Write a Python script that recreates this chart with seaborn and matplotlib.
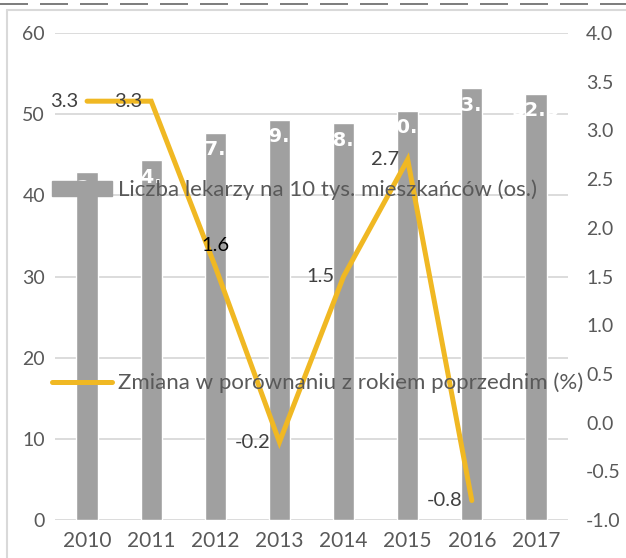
import numpy as np
import pandas as pd
import matplotlib
matplotlib.use("Agg")
import matplotlib.pyplot as plt
from matplotlib.lines import Line2D
from matplotlib.patches import Patch
import seaborn as sns

# --- data -------------------------------------------------------------
years = ["2010", "2011", "2012", "2013", "2014", "2015", "2016", "2017"]
doctors_per_10k = [42.9, 44.3, 47.7, 49.3, 48.9, 50.4, 53.2, 52.5]
change_years = ["2010", "2011", "2012", "2013", "2014", "2015", "2016"]
change_pct = [3.3, 3.3, 1.6, -0.2, 1.5, 2.7, -0.8]
left_ticks = [0, 10, 20, 30, 40, 50, 60]
right_ticks = [-1.0, -0.5, 0.0, 0.5, 1.0, 1.5, 2.0, 2.5, 3.0, 3.5, 4.0]
label_bars = "Liczba lekarzy na 10 tys. mieszkańców (os.)"
label_line = "Zmiana w porównaniu z rokiem poprzednim (%)"

BAR = "#A0A0A0"
GOLD = "#F0B823"
TXT = "#595959"
GRID = "#D9D9D9"
PX = 0.72  # points per pixel at 100 dpi

sns.set_theme(style="white")
plt.rcParams["font.family"] = ["Lato", "DejaVu Sans"]
plt.rcParams["axes.unicode_minus"] = False

df = pd.DataFrame({"rok": years, "lekarze": doctors_per_10k})
ln = pd.DataFrame({"rok": change_years, "zmiana": change_pct})
ln["pos"] = [years.index(y) for y in ln["rok"]]

fig = plt.figure(figsize=(6.26, 5.58), dpi=100)
ax = fig.add_axes([55 / 626, 38 / 558, 513 / 626, 487 / 558])

sns.barplot(data=df, x="rok", y="lekarze", color=BAR, width=0.33,
            saturation=1, ax=ax, zorder=2)
ax.set_xlim(-0.5, len(years) - 0.5)
ax.set_ylim(left_ticks[0], left_ticks[-1])
ax.set_yticks(left_ticks)
ax.set_xlabel("")
ax.set_ylabel("")
ax.set_axisbelow(True)
ax.yaxis.grid(True, color=GRID, linewidth=1.3, zorder=0)
ax.xaxis.grid(False)
for s in ax.spines.values():
    s.set_visible(False)
ax.tick_params(axis="y", length=0, pad=10 * PX, labelsize=14, labelcolor=TXT)
ax.tick_params(axis="x", length=0, pad=11 * PX, labelsize=15, labelcolor=TXT)

# white value labels sitting just inside the top of each bar
for i, v in enumerate(doctors_per_10k):
    ax.annotate(f"{v:.1f}", (i, v), xytext=(0, -17 * PX),
                textcoords="offset points", ha="center", va="center",
                color="white", fontsize=14, fontweight="bold",
                family="DejaVu Sans", zorder=4)

# secondary axis with the year-on-year change
ax2 = ax.twinx()
sns.lineplot(data=ln, x="pos", y="zmiana", color=GOLD, linewidth=5 * PX,
             ax=ax2, solid_joinstyle="miter")
ax2.set_ylim(right_ticks[0], right_ticks[-1])
ax2.set_yticks(right_ticks)
ax2.set_yticklabels([f"{t:.1f}" for t in right_ticks])
ax2.set_xlabel("")
ax2.set_ylabel("")
ax2.grid(False)
for s in ax2.spines.values():
    s.set_visible(False)
ax2.tick_params(axis="y", length=0, pad=18 * PX, labelsize=14, labelcolor=TXT)

for p, v in zip(ln["pos"], ln["zmiana"]):
    if v == 1.6:
        ax2.annotate(f"{v:.1f}", (p, v), xytext=(0, 21 * PX),
                     textcoords="offset points", ha="center", va="center",
                     color="black", fontsize=14.5)
    else:
        ax2.annotate(f"{v:.1f}", (p, v), xytext=(-9 * PX, 0),
                     textcoords="offset points", ha="right", va="center",
                     color="#404040", fontsize=14.5)

# legend entries laid out over the plot, drawn on top of everything
leg_kw = dict(loc="center left", frameon=False, fontsize=16,
              labelcolor=TXT, borderpad=0, borderaxespad=0,
              handlelength=2.7, handletextpad=0.28)
fig.legend(handles=[Patch(color=BAR, label=label_bars)],
           bbox_to_anchor=(52 / 626, 1 - 190 / 558), **leg_kw)
fig.legend(handles=[Line2D([], [], color=GOLD, linewidth=5 * PX,
                           label=label_line)],
           bbox_to_anchor=(52 / 626, 1 - 383 / 558), **leg_kw)

# chart-area border and dashed separator at the top
fig.add_artist(Line2D([7 / 626, 7 / 626], [0, 1 - 10 / 558],
                      transform=fig.transFigure, color=GRID, linewidth=1.5))
fig.add_artist(Line2D([7 / 626, 1], [1 - 10 / 558, 1 - 10 / 558],
                      transform=fig.transFigure, color=GRID, linewidth=1.5))
fig.add_artist(Line2D([0, 1], [1 - 4 / 558, 1 - 4 / 558],
                      transform=fig.transFigure, color="#7F7F7F",
                      linewidth=2 * PX, dashes=(14, 6)))

fig.savefig("out.png", dpi=100)
